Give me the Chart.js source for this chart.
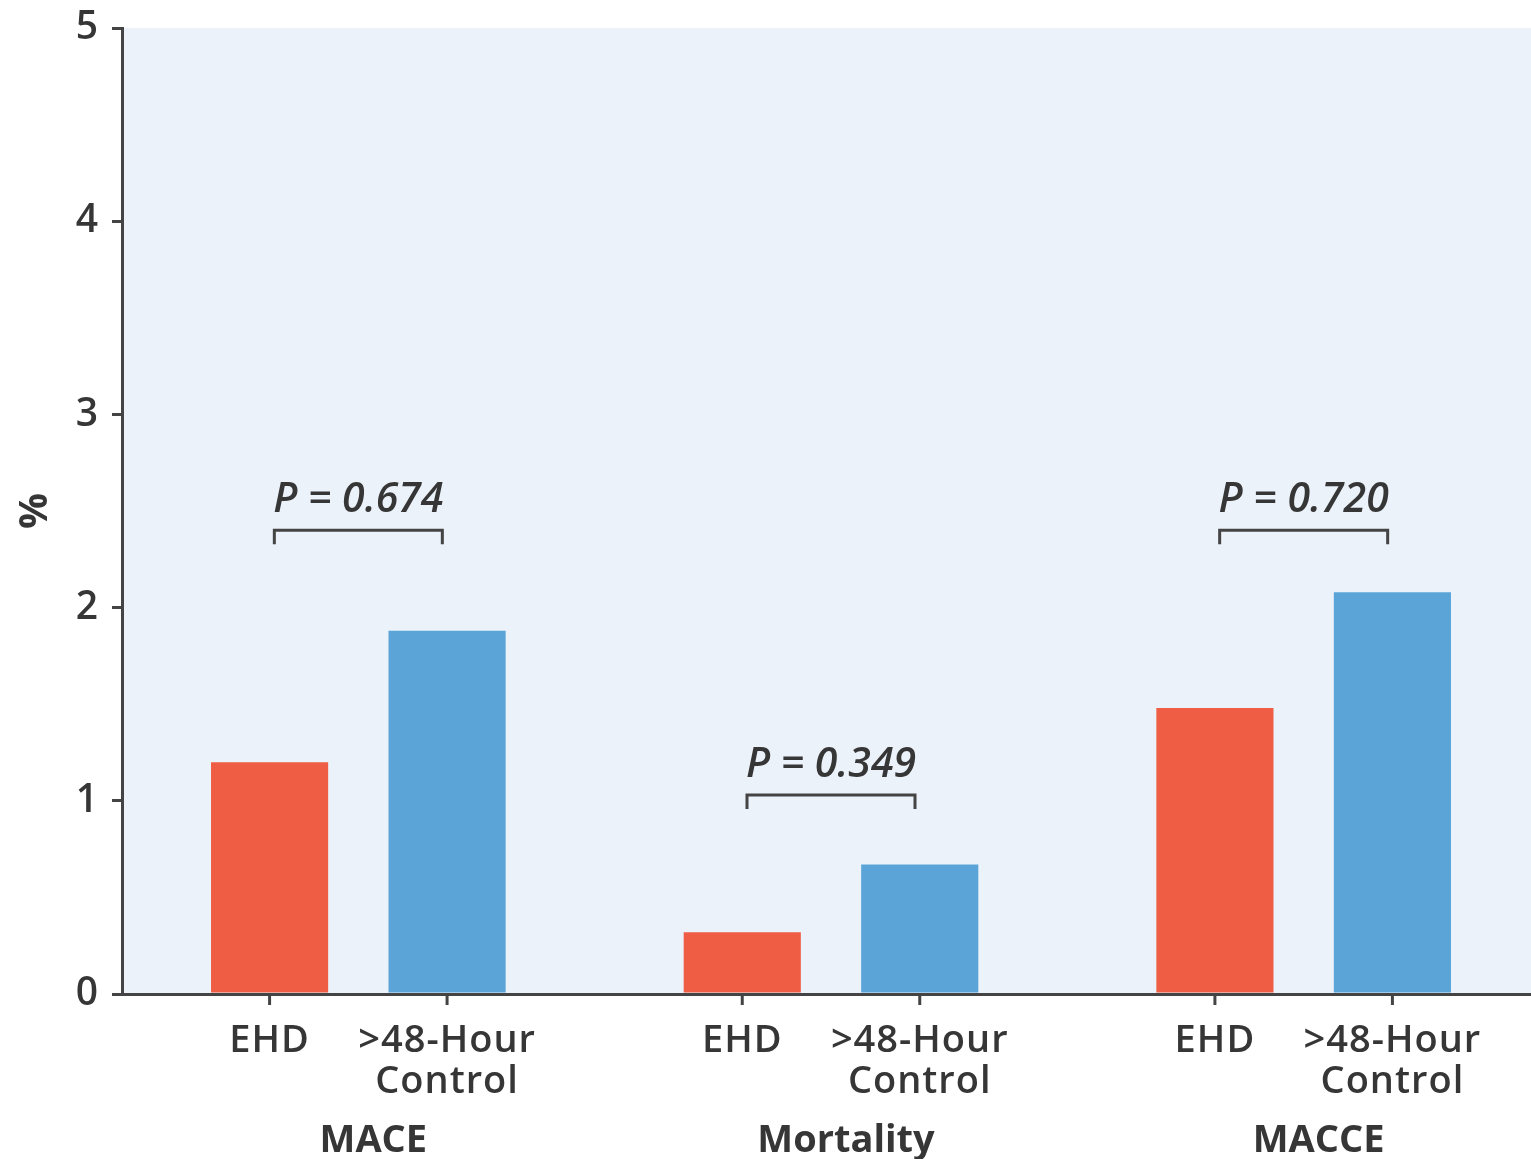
<!DOCTYPE html>
<html>
<head>
<meta charset="utf-8">
<script src="https://cdn.jsdelivr.net/npm/chart.js@4.4.1/dist/chart.umd.min.js"></script>
<style>
    html, body { margin: 0; padding: 0; background: #fff; overflow: hidden; }
    #wrap { position: relative; width: 1540px; height: 1159px; }
</style>
</head>
<body>
<div id="wrap"><canvas id="chart"></canvas></div>
<script>
const groups = ['MACE', 'Mortality', 'MACCE'];
const seriesNames = ['EHD', ['>48-Hour', 'Control']];
const ehdValues = [1.2, 0.32, 1.48];
const controlValues = [1.88, 0.67, 2.08];
const pLabels = ['P = 0.674', 'P = 0.349', 'P = 0.720'];
const bracketLevels = [2.4, 1.03, 2.4];

const textColor = '#363636';
const axisColor = '#444444';
const fontFamily = '"Open Sans", "Noto Sans", sans-serif';

// light blue plot background
const plotBackground = {
    id: 'plotBackground',
    beforeDraw(chart) {
        const { ctx, chartArea: a } = chart;
        ctx.save();
        ctx.fillStyle = '#ebf2fa';
        ctx.fillRect(a.left, a.top, a.right - a.left, a.bottom - a.top);
        ctx.restore();
    }
};

// tick marks + labels under every bar, and the p value brackets
const barLabels = {
    id: 'barLabels',
    afterDraw(chart) {
        const { ctx, chartArea: a } = chart;
        const xs = chart.scales.x;
        const ys = chart.scales.y;
        ctx.save();
        ctx.strokeStyle = axisColor;
        ctx.fillStyle = textColor;
        ctx.lineWidth = 3;
        ctx.textAlign = 'center';
        ctx.textBaseline = 'alphabetic';
        ctx.font = '600 38px ' + fontFamily;
        ctx.letterSpacing = '1px';
        [0, 1].forEach(d => {
            chart.getDatasetMeta(d).data.forEach(bar => {
                ctx.beginPath();
                ctx.moveTo(bar.x, a.bottom);
                ctx.lineTo(bar.x, a.bottom + 11);
                ctx.stroke();
                const lines = [].concat(seriesNames[d]);
                lines.forEach((t, k) => ctx.fillText(t, bar.x, a.bottom + 58 + k * 41));
            });
        });

        ctx.font = 'italic 600 41px ' + fontFamily;
        ctx.letterSpacing = '0px';
        groups.forEach((g, i) => {
            const cx = xs.getPixelForValue(i);
            const by = ys.getPixelForValue(bracketLevels[i]);
            ctx.beginPath();
            ctx.moveTo(cx - 84, by + 14);
            ctx.lineTo(cx - 84, by);
            ctx.lineTo(cx + 84, by);
            ctx.lineTo(cx + 84, by + 14);
            ctx.stroke();
            ctx.fillText(pLabels[i], cx, by - 18);
        });
        ctx.restore();
    }
};

const chart = new Chart(document.getElementById('chart'), {
    type: 'bar',
    data: {
        labels: groups,
        datasets: [{
            label: 'EHD',
            data: ehdValues,
            backgroundColor: '#ef5d45'
        }, {
            label: '>48-Hour Control',
            data: controlValues,
            backgroundColor: '#5aa4d8'
        }]
    },
    options: {
        responsive: true,
        maintainAspectRatio: false,
        animation: false,
        categoryPercentage: 0.751,
        barPercentage: 0.66,
        layout: { padding: { top: 28, left: 0, right: 0, bottom: 0 } },
        plugins: {
            legend: { display: false },
            tooltip: { enabled: false }
        },
        scales: {
            x: {
                grid: { display: false },
                border: { display: true, color: axisColor, width: 3 },
                ticks: {
                    color: textColor,
                    padding: 116,
                    labelOffset: 15,
                    font: { family: fontFamily, size: 38, weight: '700' }
                },
                afterFit(scale) { scale.height = 165; }
            },
            y: {
                min: 0,
                max: 5,
                ticks: {
                    stepSize: 1,
                    color: textColor,
                    padding: 14,
                    font: { family: fontFamily, size: 39, weight: '600' }
                },
                grid: {
                    drawOnChartArea: false,
                    drawTicks: true,
                    tickLength: 10,
                    color: axisColor,
                    lineWidth: 3
                },
                border: { display: true, color: axisColor, width: 3 },
                title: {
                    display: true,
                    text: '%',
                    color: textColor,
                    padding: { top: 12, bottom: 0 },
                    font: { family: fontFamily, size: 40, weight: '700' }
                },
                afterFit(scale) {
                    scale.width = 122;
                    scale.paddingTop = 0;
                    scale.paddingBottom = 0;
                }
            }
        }
    },
    plugins: [plotBackground, barLabels]
});
</script>
</body>
</html>
